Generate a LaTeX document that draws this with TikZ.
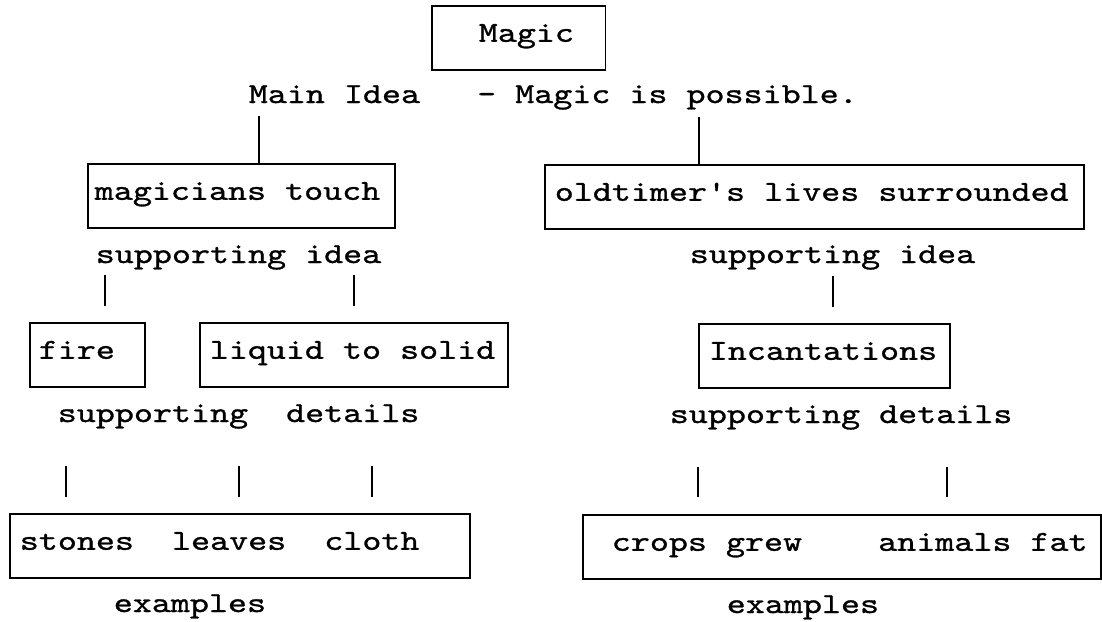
\documentclass[tikz,border=0pt]{standalone}
\usepackage{fontspec}
\setmonofont{lmmono10-regular.otf}[FakeStretch=1.25,FakeBold=1]
\usepackage{tikz}
\def\padded#1#2#3{\makebox[#1][l]{\hspace*{#2}#3}}

\begin{document}
\begin{tikzpicture}[x=1pt,y=-1pt,line width=1.6pt,
  font=\ttfamily\fontsize{29pt}{35pt}\selectfont,
  idbox/.style={draw,anchor=north west,inner xsep=0pt,inner ysep=0pt,
    minimum height=64pt,text height=24pt,text depth=16pt},
  txt/.style={anchor=base west,inner sep=0pt}]
\useasboundingbox (0,0) rectangle (1102,621);
% boxes
\node[idbox] (magic) at (431,5) {\padded{173.5pt}{47pt}{Magic}};
\node[idbox] (touch) at (87,163) {\padded{307pt}{7pt}{magicians touch}};
\node[idbox] (old) at (544,164) {\padded{539pt}{10pt}{oldtimer's lives surrounded}};
\node[idbox] (fire) at (29,322) {\padded{115pt}{9pt}{fire}};
\node[idbox] (liquid) at (199,322) {\padded{308pt}{10pt}{liquid to solid}};
\node[idbox] (incant) at (698,323) {\padded{251pt}{10pt}{Incantations}};
\node[idbox] (exbl) at (9,513) {\padded{460pt}{10pt}{stones~~leaves~~cloth}};
\node[idbox] (exbr) at (582,514) {\padded{518pt}{29pt}{crops grew~~~~animals fat}};
% labels
\node[txt] (idea) at (248,103) {Main Idea~~~- Magic is possible.};
\node[txt] (sidl) at (95,263) {supporting idea};
\node[txt] (sidr) at (689,263) {supporting idea};
\node[txt] (sdtl) at (57,422) {supporting~~details};
\node[txt] (sdtr) at (669,423) {supporting details};
\node[txt] (exl) at (113,612) {examples};
\node[txt] (exr) at (726,613) {examples};
% connectors
\draw ([shift={(11,13)}]idea.base west) coordinate (m1) -- (m1 |- touch.north);
\draw ([shift={(451,14)}]idea.base west) coordinate (m2) -- (m2 |- old.north);
\draw ([shift={(10,12)}]sidl.base west) coordinate (s1) -- ([yshift=16pt]s1 |- fire.north);
\draw ([shift={(259,12)}]sidl.base west) coordinate (s2) -- ([yshift=16pt]s2 |- liquid.north);
\draw ([shift={(144,13)}]sidr.base west) coordinate (s3) -- ([yshift=16pt]s3 |- incant.north);
\draw ([shift={(9,44)}]sdtl.base west) coordinate (d1) -- ([yshift=16pt]d1 |- exbl.north);
\draw ([shift={(182,44)}]sdtl.base west) coordinate (d2) -- ([yshift=16pt]d2 |- exbl.north);
\draw ([shift={(315,44)}]sdtl.base west) coordinate (d3) -- ([yshift=16pt]d3 |- exbl.north);
\draw ([shift={(29,44)}]sdtr.base west) coordinate (d4) -- ([yshift=17pt]d4 |- exbr.north);
\draw ([shift={(278,44)}]sdtr.base west) coordinate (d5) -- ([yshift=17pt]d5 |- exbr.north);
\end{tikzpicture}
\end{document}
